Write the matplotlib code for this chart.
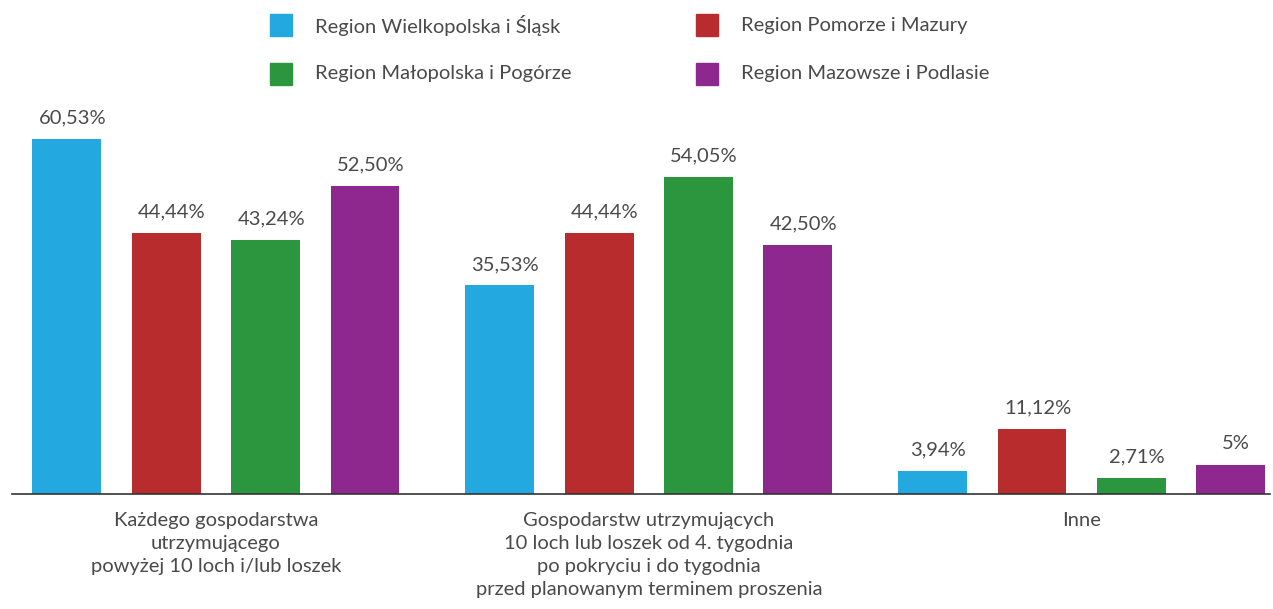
import matplotlib
matplotlib.use("Agg")
import matplotlib.pyplot as plt
from matplotlib.patches import Rectangle
import numpy as np

plt.rcParams['font.family'] = ['Lato', 'DejaVu Sans']

categories = [
    "Każdego gospodarstwa\nutrzymującego\npowyżej 10 loch i/lub loszek",
    "Gospodarstw utrzymujących\n10 loch lub loszek od 4. tygodnia\npo pokryciu i do tygodnia\nprzed planowanym terminem proszenia",
    "Inne",
]
series_names = [
    "Region Wielkopolska i Śląsk",
    "Region Pomorze i Mazury",
    "Region Małopolska i Pogórze",
    "Region Mazowsze i Podlasie",
]
wielkopolska = [60.53, 35.53, 3.94]
pomorze = [44.44, 44.44, 11.12]
malopolska = [43.24, 54.05, 2.71]
mazowsze = [52.50, 42.50, 5.0]
value_labels = [
    ["60,53%", "35,53%", "3,94%"],
    ["44,44%", "44,44%", "11,12%"],
    ["43,24%", "54,05%", "2,71%"],
    ["52,50%", "42,50%", "5%"],
]
colors = ["#23a8e0", "#b92c2e", "#2b963d", "#8e288f"]
text_color = "#4a4a4a"

W, H = 1273, 609
fig = plt.figure(figsize=(W / 100, H / 100), dpi=100)
ax_left, ax_right = 12, 1270
ax_bottom, ax_top = 494, 100
ax = fig.add_axes([ax_left / W, (H - ax_bottom) / H,
                   (ax_right - ax_left) / W, (ax_bottom - ax_top) / H])

px_per_pct = 5.87
ax.set_ylim(0, (ax_bottom - ax_top) / px_per_pct)
ax.set_xlim(-0.471, 2.435)

series = [wielkopolska, pomorze, malopolska, mazowsze]
x = np.arange(len(categories))
stride = 0.2295
width = 0.159
fs = 14.5
for i, (vals, col) in enumerate(zip(series, colors)):
    pos = x + (i - 1.5) * stride
    ax.bar(pos, vals, width=width, color=col, zorder=2)
    for p, v, lab in zip(pos, vals, value_labels[i]):
        ax.annotate(lab, (p, v), xytext=(4, 9), textcoords="offset points",
                    ha="center", va="bottom", fontsize=fs, color=text_color)

for s in ["top", "right", "left"]:
    ax.spines[s].set_visible(False)
ax.spines["bottom"].set_color("#333333")
ax.spines["bottom"].set_linewidth(1.2)
ax.set_yticks([])
ax.set_xticks(x)
ax.set_xticklabels(categories, fontsize=fs, color=text_color, linespacing=1.42)
ax.tick_params(axis="x", length=0, pad=13)

# legend
leg_pos = [(270, 25), (696, 25), (270, 74), (696, 74)]
for (lx, ly), name, col in zip(leg_pos, series_names, colors):
    fig.patches.append(Rectangle((lx / W, (H - ly - 11) / H), 22 / W, 22 / H,
                                 transform=fig.transFigure, color=col))
    fig.text((lx + 45) / W, (H - ly) / H, name, fontsize=fs, color=text_color,
             va="center", ha="left")

fig.savefig("out.png", dpi=100)
